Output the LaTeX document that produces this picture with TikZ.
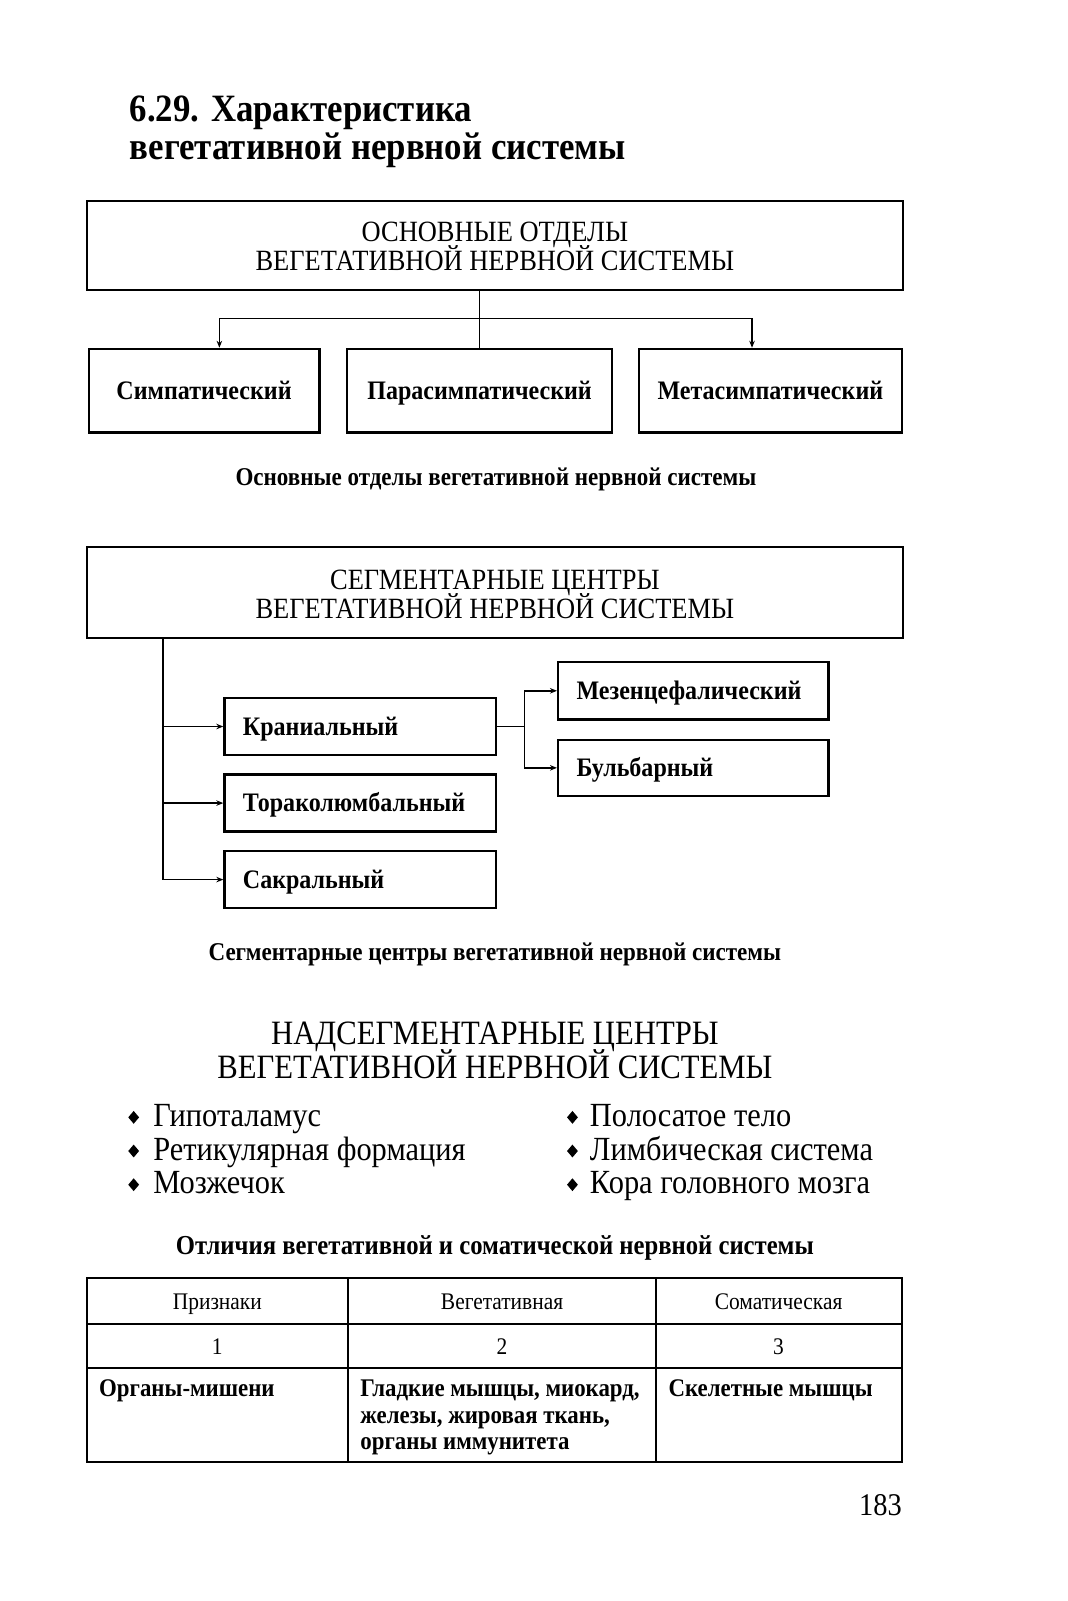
\documentclass[tikz,border=0pt]{standalone}
\usepackage{fontspec}
\setmainfont{Liberation Serif}[FakeStretch=0.9]
\usetikzlibrary{arrows.meta,shapes.geometric}
\begin{document}
\begin{tikzpicture}[x=1.0204pt,y=-1.0204pt,
  box/.style={draw,line width=2.4pt,inner sep=0pt,text height=17pt,text depth=0pt},
  lbox/.style={box,minimum height=57.1pt,text width=234.6pt,align=left,inner xsep=18.4pt,font=\fs{26.7}\bfseries},
  tbox/.style={box,minimum height=83.7pt,font=\fs{26.7}\bfseries},
  bigbox/.style={draw,line width=2.4pt,minimum width=816.3pt,inner sep=0pt},
  conn/.style={line width=1.7pt},
  arr/.style={conn,-{Stealth[length=7pt,width=5.5pt]}},
  bul/.style={diamond,fill=black,inner sep=0pt,minimum width=11pt,minimum height=13pt},
  txt/.style={inner sep=0pt},
  head/.style={txt,anchor=base,font=\fs{29.4}},
  tline/.style={line width=2pt}]
\newcommand{\fs}[1]{\fontsize{#1}{#1}\selectfont}
\useasboundingbox (0,0) rectangle (1045.7,1569);
% title
\node[txt,anchor=base west,font=\fs{38.7}\bfseries] (title1) at (127,119) {6.29. Характеристика};
\node[txt,anchor=base west,font=\fs{38.7}\bfseries] (title2) at (127,156) {вегетативной нервной системы};
% block 1
\node[bigbox,minimum height=88.8pt] (main1) at (485,240.5) {};
\node[head] (m1a) at (485,237) {ОСНОВНЫЕ ОТДЕЛЫ};
\node[head] (m1b) at (485,265) {ВЕГЕТАТИВНОЙ НЕРВНОЙ СИСТЕМЫ};
\node[tbox,minimum width=230.6pt] (symp) at (200,383) {Симпатический};
\node[tbox,minimum width=265.3pt] (para) at (470,383) {Парасимпатический};
\node[tbox,minimum width=263.3pt] (meta) at (755,383) {Метасимпатический};
\coordinate (hl) at (215,312);
\coordinate (hr) at (737,312);
\draw[conn] (para.north |- main1.south) -- (para.north);
\draw[conn] (hl) -- (hr);
\draw[arr] (hl) -- (hl |- symp.north);
\draw[arr] (hr) -- (hr |- meta.north);
\node[txt,anchor=base,font=\fs{25.6}\bfseries] (cap1) at (486,476) {Основные отделы вегетативной нервной системы};
% block 2
\node[bigbox,minimum height=90.8pt] (main2) at (485,580.5) {};
\node[head] (m2a) at (485,578) {СЕГМЕНТАРНЫЕ ЦЕНТРЫ};
\node[head] (m2b) at (485,606) {ВЕГЕТАТИВНОЙ НЕРВНОЙ СИСТЕМЫ};
\node[lbox] (kran) at (353,712) {Краниальный};
\node[lbox] (torak) at (353,787) {Тораколюмбальный};
\node[lbox] (sakr) at (353,862) {Сакральный};
\node[lbox,text width=233.6pt] (mezen) at (679.5,677) {Мезенцефалический};
\node[lbox,text width=233.6pt,minimum height=56.1pt] (bulb) at (679.5,752.5) {Бульбарный};
\coordinate (tr) at (160,625);
\draw[arr] (tr) |- (kran.west);
\draw[arr] (tr) |- (torak.west);
\draw[arr] (tr) |- (sakr.west);
\coordinate (br) at (514,712);
\draw[conn] (kran.east) -- (br);
\draw[arr] (br) |- (mezen.west);
\draw[arr] (br) |- (bulb.west);
\node[txt,anchor=base,font=\fs{25.6}\bfseries] (cap2) at (485,941) {Сегментарные центры вегетативной нервной системы};
% block 3
\node[txt,anchor=base,font=\fs{34.1}] (nads1) at (485,1024) {НАДСЕГМЕНТАРНЫЕ ЦЕНТРЫ};
\node[txt,anchor=base,font=\fs{34.1}] (nads2) at (485,1057) {ВЕГЕТАТИВНОЙ НЕРВНОЙ СИСТЕМЫ};
\foreach \t/\y [count=\i] in {Гипоталамус/1104,Ретикулярная формация/1137,Мозжечок/1170}{
  \node[bul] (bl\i) at (131,\y-9) {};
  \node[txt,anchor=base west,font=\fs{33.8}] (tl\i) at (150,\y) {\t};
}
\foreach \t/\y [count=\i] in {Полосатое тело/1104,Лимбическая система/1137,Кора головного мозга/1170}{
  \node[bul] (br\i) at (561,\y-9) {};
  \node[txt,anchor=base west,font=\fs{33.8}] (tr\i) at (578,\y) {\t};
}
% table
\node[txt,anchor=base,font=\fs{27.4}\bfseries] (tcap) at (485,1229) {Отличия вегетативной и соматической нервной системы};
\draw[tline] (85,1252) rectangle (884,1433);
\draw[tline] (85,1298) -- (884,1298);
\draw[tline] (85,1341) -- (884,1341);
\draw[tline] (341,1252) -- (341,1433);
\draw[tline] (643,1252) -- (643,1433);
\node[txt,anchor=base,font=\fs{23.8}] (h1) at (213,1283) {Признаки};
\node[txt,anchor=base,font=\fs{23.8}] (h2) at (492,1283) {Вегетативная};
\node[txt,anchor=base,font=\fs{23.8}] (h3) at (763,1283) {Соматическая};
\node[txt,anchor=base,font=\fs{23.8}] (n1) at (213,1327) {1};
\node[txt,anchor=base,font=\fs{23.8}] (n2) at (492,1327) {2};
\node[txt,anchor=base,font=\fs{23.8}] (n3) at (763,1327) {3};
\node[txt,anchor=base west,font=\fs{25.4}\bfseries] (c1) at (97,1369) {Органы-мишени};
\node[txt,anchor=base west,font=\fs{25.4}\bfseries] (c2a) at (353,1369) {Гладкие мышцы, миокард,};
\node[txt,anchor=base west,font=\fs{25.4}\bfseries] (c2b) at (353,1395) {железы, жировая ткань,};
\node[txt,anchor=base west,font=\fs{25.4}\bfseries] (c2c) at (353,1421) {органы иммунитета};
\node[txt,anchor=base west,font=\fs{25.4}\bfseries] (c3) at (655,1369) {Скелетные мышцы};
\node[txt,anchor=base east,font=\fs{31.6}] (page) at (884,1485) {183};
\end{tikzpicture}
\end{document}
